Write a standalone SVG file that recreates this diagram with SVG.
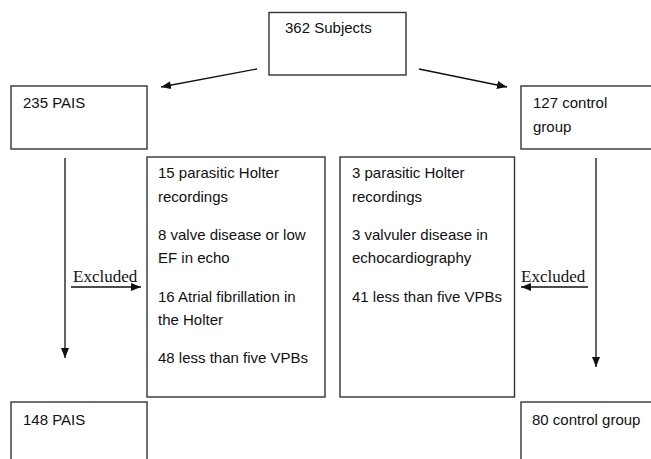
<svg xmlns="http://www.w3.org/2000/svg" width="651" height="459" viewBox="0 0 651 459">
<defs>
<style>
.box{fill:#fff;stroke:#333;stroke-width:1.4}
.t{font-family:"Liberation Sans",Arial,sans-serif;font-size:15px;fill:#111}
.ex{font-family:"Liberation Serif","Times New Roman",serif;font-size:17px;fill:#111}
.ln{stroke:#111;stroke-width:1.3;fill:none;marker-end:url(#ah)}
</style>
<marker id="ah" viewBox="0 0 10 8" refX="10" refY="4" markerWidth="10" markerHeight="8" markerUnits="userSpaceOnUse" orient="auto">
<path d="M0,0 L10,4 L0,8 Z" fill="#111"/>
</marker>
</defs>
<rect width="651" height="459" fill="#fff"/>
<g id="connectors">
<line class="ln" x1="257" y1="69" x2="161" y2="87"/>
<line class="ln" x1="419" y1="69" x2="507" y2="87"/>
<line class="ln" x1="65" y1="158" x2="65" y2="358"/>
<line class="ln" x1="596" y1="158" x2="596" y2="367"/>
<line class="ln" x1="71" y1="287" x2="141" y2="287"/>
<line class="ln" x1="588" y1="287" x2="521" y2="287"/>
<text class="ex" x="73" y="282">Excluded</text>
<text class="ex" x="521" y="282">Excluded</text>
</g>
<g id="subjects">
<rect class="box" x="269" y="12.5" width="137" height="62.5"/>
<text class="t" x="285" y="33">362 Subjects</text>
</g>
<g id="pais235">
<rect class="box" x="11" y="86" width="136" height="63"/>
<text class="t" x="23" y="108">235 PAIS</text>
</g>
<g id="control127">
<rect class="box" x="521" y="86" width="140" height="63"/>
<text class="t" x="533" y="108">127 control</text>
<text class="t" x="533" y="132">group</text>
</g>
<g id="excludedPais">
<rect class="box" x="147" y="157" width="178" height="240"/>
<text class="t" x="158" y="178">15 parasitic Holter</text>
<text class="t" x="158" y="202">recordings</text>
<text class="t" x="158" y="240">8 valve disease or low</text>
<text class="t" x="158" y="263">EF in echo</text>
<text class="t" x="158" y="302">16 Atrial fibrillation in</text>
<text class="t" x="158" y="325">the Holter</text>
<text class="t" x="158" y="363">48 less than five VPBs</text>
</g>
<g id="excludedControl">
<rect class="box" x="340" y="157" width="174.5" height="240"/>
<text class="t" x="352" y="178">3 parasitic Holter</text>
<text class="t" x="352" y="202">recordings</text>
<text class="t" x="352" y="240">3 valvuler disease in</text>
<text class="t" x="352" y="263">echocardiography</text>
<text class="t" x="352" y="302">41 less than five VPBs</text>
</g>
<g id="pais148">
<rect class="box" x="11" y="402" width="136" height="70"/>
<text class="t" x="23" y="425">148 PAIS</text>
</g>
<g id="control80">
<rect class="box" x="521" y="402" width="140" height="70"/>
<text class="t" x="532" y="425">80 control group</text>
</g>
</svg>
